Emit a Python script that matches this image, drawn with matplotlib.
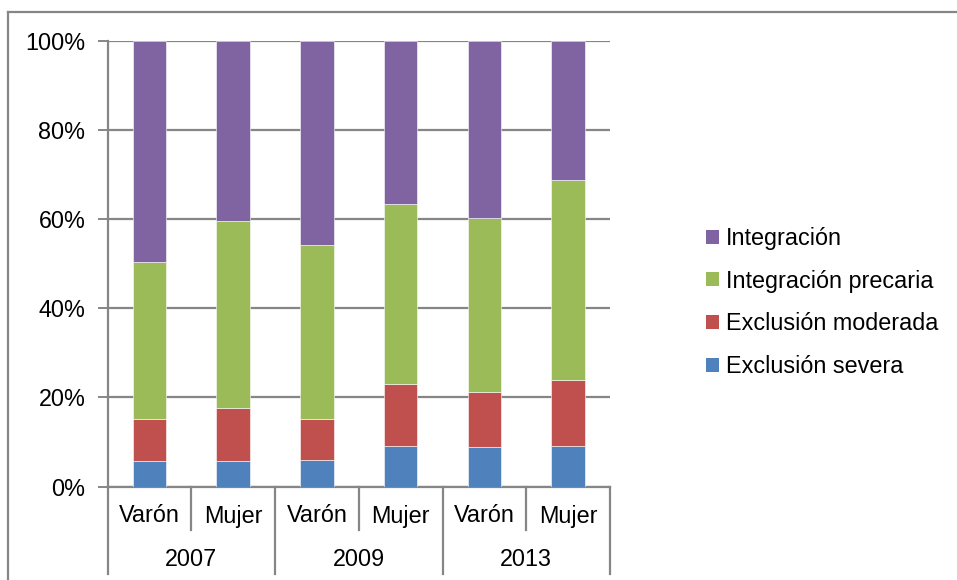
import matplotlib
matplotlib.use("Agg")
import matplotlib.pyplot as plt
from matplotlib.patches import Patch
from matplotlib.lines import Line2D
import numpy as np

plt.rcParams['font.family'] = ['Liberation Sans', 'DejaVu Sans']

# Data (percent of each group)
years = ["2007", "2009", "2013"]
sexes = ["Varón", "Mujer", "Varón", "Mujer", "Varón", "Mujer"]
exclusion_severa = [5.7, 5.7, 6.0, 9.0, 8.8, 9.0]
exclusion_moderada = [9.4, 11.9, 9.2, 13.9, 12.3, 14.8]
integracion_precaria = [35.3, 42.1, 39.0, 40.6, 39.1, 45.0]
integracion = [49.6, 40.3, 45.8, 36.5, 39.8, 31.2]

series = [
    ("Exclusión severa", exclusion_severa, "#4F81BD"),
    ("Exclusión moderada", exclusion_moderada, "#C0504D"),
    ("Integración precaria", integracion_precaria, "#9BBB59"),
    ("Integración", integracion, "#8064A2"),
]

FS = 16.8
W, H = 957, 580
fig = plt.figure(figsize=(W / 100, H / 100), dpi=100)
ax = fig.add_axes([107.5 / W, 1 - 486.5 / H, (610 - 107.5) / W, (486.5 - 41) / H])

grid_col = "#868686"
x = np.arange(len(sexes))
bottom = np.zeros(len(sexes))
for name, vals, col in series:
    vals = np.array(vals)
    ax.bar(x, vals, width=0.4, bottom=bottom, color=col, edgecolor="white",
           linewidth=0.4, label=name, zorder=3)
    bottom += vals

ax.set_xlim(-0.5, len(sexes) - 0.5)
ax.set_ylim(0, 100)
ax.set_yticks(np.arange(0, 101, 20))
ax.set_yticklabels([f"{v}%" for v in range(0, 101, 20)], fontsize=FS)
ax.yaxis.grid(True, color=grid_col, linewidth=1.6, zorder=0)
ax.tick_params(axis='y', length=7, width=1.4, color=grid_col, pad=9)
ax.set_xticks([])
for s in ["top", "right"]:
    ax.spines[s].set_visible(False)
for s in ["left", "bottom"]:
    ax.spines[s].set_color(grid_col)
    ax.spines[s].set_linewidth(1.6)

# Two-level category axis
h = 486.5 - 41
y_inner = -(530 - 486.5) / h
y_outer = -(574 - 486.5) / h
trans = ax.get_xaxis_transform()
for i in range(len(sexes) + 1):
    xb = i - 0.5
    yb = y_outer if i % 2 == 0 else y_inner
    ax.add_line(Line2D([xb, xb], [0, yb], transform=trans, color=grid_col,
                       linewidth=1.6, clip_on=False))
for i, s in enumerate(sexes):
    ax.text(i, -(516 - 486.5) / h, s, transform=trans, ha="center", va="center",
            fontsize=FS)
for j, yr in enumerate(years):
    ax.text(2 * j + 0.5, -(559 - 486.5) / h, yr, transform=trans, ha="center",
            va="center", fontsize=FS)

# Legend, top entry first
handles = [Patch(facecolor=c, edgecolor="none") for _, _, c in series][::-1]
labels = [n for n, _, _ in series][::-1]
fig.legend(handles, labels, loc="center left",
           bbox_to_anchor=(706 / W, 1 - 302.5 / H), frameon=False,
           fontsize=FS, handlelength=0.55, handleheight=0.55,
           handletextpad=0.3, labelspacing=0.84, borderpad=0,
           borderaxespad=0)

# Chart frame
fig.add_artist(Line2D([8 / W, 1.0], [1 - 11.5 / H] * 2, transform=fig.transFigure,
                      color=grid_col, linewidth=1.6))
fig.add_artist(Line2D([8 / W] * 2, [0, 1 - 11.5 / H], transform=fig.transFigure,
                      color=grid_col, linewidth=1.6))

fig.savefig("out.png", dpi=100)
